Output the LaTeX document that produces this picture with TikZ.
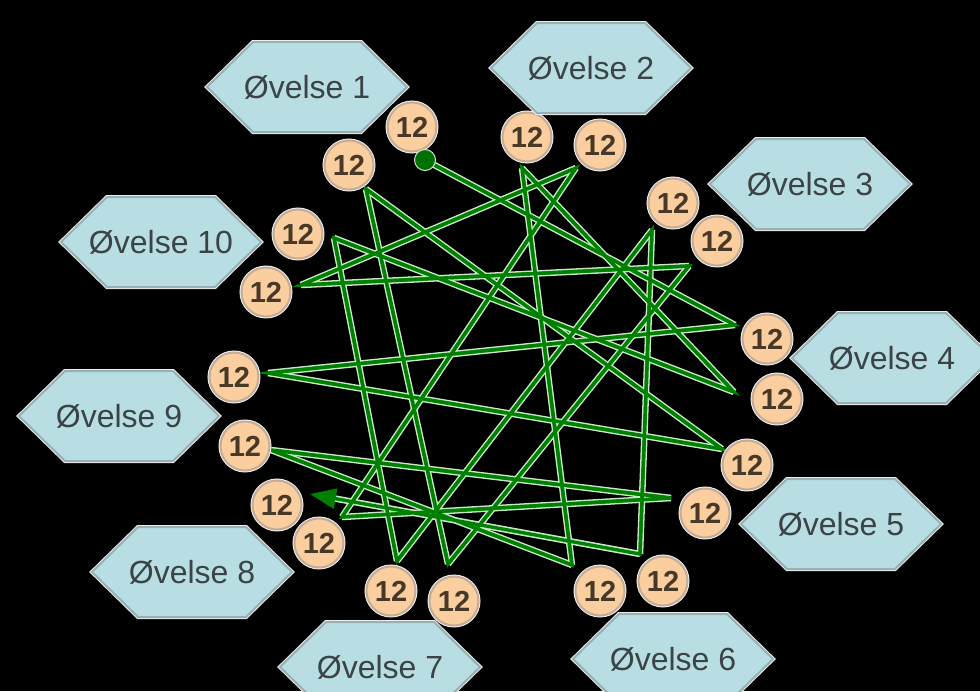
\documentclass[tikz,border=0pt]{standalone}
\usepackage{fontspec}
\setmainfont{Liberation Sans}
\usetikzlibrary{arrows.meta}
\definecolor{hexfill}{RGB}{184,222,227}
\definecolor{hexline}{RGB}{150,176,180}
\definecolor{hextext}{RGB}{58,68,70}
\definecolor{numfill}{RGB}{250,206,158}
\definecolor{numline}{RGB}{196,172,150}
\definecolor{numtext}{RGB}{72,56,40}
\definecolor{route}{RGB}{0,128,0}
\definecolor{routehalo}{RGB}{200,232,200}
\definecolor{startc}{RGB}{0,112,0}
\newcommand\hexnode[4]{%
  \draw[hexshape] (#2-100,#3) -- (#2-54,#3-45) -- (#2+54,#3-45) -- (#2+100,#3)
    -- (#2+54,#3+45) -- (#2-54,#3+45) -- cycle;
  \node[hexlabel] (#1) at (#2,#3) {#4};}
\begin{document}
\begin{tikzpicture}[x=1pt,y=-1pt,
  hexshape/.style={fill=hexfill,draw=hexline,line width=2pt,
    preaction={draw=white!85!gray,line width=4pt}},
  hexlabel/.style={text=hextext,font=\fontsize{32}{36}\selectfont,inner sep=0pt},
  numc/.style={circle,fill=numfill,draw=numline,line width=2pt,minimum size=49pt,
    inner sep=0pt,text=numtext,font=\fontsize{29}{32}\selectfont\bfseries,
    preaction={draw=white!88!gray,line width=4pt}},
  routehalo/.style={draw=routehalo,line width=6.5pt},
  routecore/.style={draw=route,line width=3.4pt},
  startdot/.style={circle,fill=startc,draw=routehalo,line width=1pt,minimum size=21pt,inner sep=0pt}]
\fill[black] (0,0) rectangle (980,691);
\useasboundingbox (0,0) rectangle (980,691);

% route vertices
\coordinate (v1) at (425,160);
\coordinate (v2) at (735,325);
\coordinate (v3) at (268,373);
\coordinate (v4) at (722,449);
\coordinate (v5) at (366,189);
\coordinate (v6) at (448,564);
\coordinate (v7) at (689,266);
\coordinate (v8) at (301,285);
\coordinate (v9) at (576,168);
\coordinate (v10) at (342,517);
\coordinate (v11) at (671,498);
\coordinate (v12) at (271,450);
\coordinate (v13) at (572,565);
\coordinate (v14) at (522,168);
\coordinate (v15) at (734,392);
\coordinate (v16) at (334,238);
\coordinate (v17) at (397,561);
\coordinate (v18) at (652,230);
\coordinate (v19) at (640,554);
\coordinate (v20) at (310,494);

% segments drawn one after another (each with a pale edge)
\foreach \a/\b in {v1/v2,v2/v3,v3/v4,v4/v5,v5/v6,v6/v7,v7/v8,v8/v9,v9/v10,v10/v11,
  v11/v12,v12/v13,v13/v14,v14/v15,v15/v16,v16/v17,v17/v18,v18/v19}{
  \draw[routehalo] (\a) -- (\b);
  \draw[routecore] (\a) -- (\b);}
\draw[routehalo,shorten >=20pt] (v19) -- (v20);

\draw[routecore,-{Triangle[length=26pt,width=20pt]}]
  (v1) -- (v2) -- (v3) -- (v4) -- (v5) -- (v6) -- (v7) -- (v8) -- (v9) -- (v10)
  -- (v11) -- (v12) -- (v13) -- (v14) -- (v15) -- (v16) -- (v17) -- (v18) -- (v19) -- (v20);

% circles
\node[numc] (c1a) at (349,165) {12};
\node[numc] (c1b) at (412,127) {12};
\node[numc] (c2a) at (527,137) {12};
\node[numc] (c2b) at (600,145) {12};
\node[numc] (c3a) at (673,203) {12};
\node[numc] (c3b) at (717,241) {12};
\node[numc] (c4a) at (767,339) {12};
\node[numc] (c4b) at (777,399) {12};
\node[numc] (c5a) at (747,465) {12};
\node[numc] (c5b) at (705,513) {12};
\node[numc] (c6a) at (663,581) {12};
\node[numc] (c6b) at (600,591) {12};
\node[numc] (c7a) at (454,601) {12};
\node[numc] (c7b) at (391,591) {12};
\node[numc] (c8a) at (319,543) {12};
\node[numc] (c8b) at (277,505) {12};
\node[numc] (c9a) at (245,446) {12};
\node[numc] (c9b) at (234,377) {12};
\node[numc] (c10a) at (298,234) {12};
\node[numc] (c10b) at (266,292) {12};

\node[startdot] (start) at (v1) {};

% hexagons
\hexnode{h1}{307}{87}{Øvelse 1}
\hexnode{h2}{591}{68}{Øvelse 2}
\hexnode{h3}{810}{184}{Øvelse 3}
\hexnode{h4}{892}{358}{Øvelse 4}
\hexnode{h5}{841}{524}{Øvelse 5}
\hexnode{h6}{673}{659}{Øvelse 6}
\hexnode{h7}{380}{667}{Øvelse 7}
\hexnode{h8}{192}{572}{Øvelse 8}
\hexnode{h9}{119}{416}{Øvelse 9}
\hexnode{h10}{161}{242}{Øvelse 10}
\end{tikzpicture}
\end{document}
